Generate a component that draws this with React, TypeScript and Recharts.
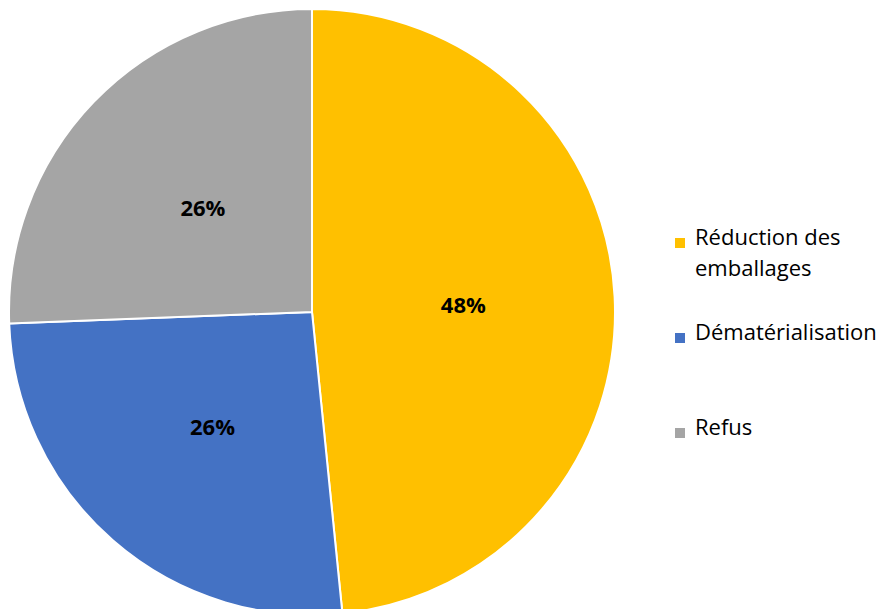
import React from 'react';
import { PieChart, Pie, Cell, Legend } from 'recharts';

const categories = ['Réduction des emballages', 'Dématérialisation', 'Refus'];
const values = [48.4, 26.0, 25.6];
const labels = ['48%', '26%', '26%'];
const colors = ['#FFC000', '#4472C4', '#A5A5A5'];

const data = categories.map((name, i) => ({ name, value: values[i], label: labels[i] }));

const RAD = Math.PI / 180;
const FONT = "'Open Sans', 'Noto Sans', sans-serif";

const renderLabel = (props: any) => {
  const { cx, cy, midAngle, outerRadius, index } = props;
  const r = outerRadius * 0.5;
  const x = cx + r * Math.cos(-midAngle * RAD);
  const y = cy + r * Math.sin(-midAngle * RAD);
  return (
    <text x={x} y={y} textAnchor="middle" dominantBaseline="central" fill="#000" fontSize={22} fontWeight="bold" fontFamily={FONT}>
      {labels[index]}
    </text>
  );
};

const legendTops = [0, 95, 190];

const renderLegend = () => (
  <div style={{ position: 'relative', width: 215, height: 240, fontFamily: FONT, fontSize: 22, color: '#000' }}>
    {categories.map((c, i) => (
      <div key={c} style={{ position: 'absolute', left: 0, top: legendTops[i], display: 'flex', alignItems: 'flex-start' }}>
        <div style={{ width: 10, height: 10, background: colors[i], marginTop: 8, marginRight: 10, flexShrink: 0 }} />
        <div style={{ width: 200, lineHeight: '31px', marginTop: -9, whiteSpace: 'nowrap' }}>{c === 'Réduction des emballages' ? (<>Réduction des<br />emballages</>) : c}</div>
      </div>
    ))}
  </div>
);

export default function App() {
  return (
    <div style={{ position: 'absolute', left: 0, top: 0, background: '#fff' }}>
      <PieChart width={885} height={609} margin={{ top: 0, right: 0, bottom: 0, left: 0 }}>
        <Pie
          data={data}
          dataKey="value"
          nameKey="name"
          cx={312}
          cy={312}
          outerRadius={303}
          startAngle={90}
          endAngle={-270}
          stroke="#ffffff"
          strokeWidth={2}
          label={renderLabel}
          labelLine={false}
          isAnimationActive={false}
        >
          {data.map((d, i) => (
            <Cell key={d.name} fill={colors[i]} />
          ))}
        </Pie>
        <Legend
          content={renderLegend}
          wrapperStyle={{ position: 'absolute', left: 675, top: 230, width: 215, height: 240 }}
        />
      </PieChart>
    </div>
  );
}
